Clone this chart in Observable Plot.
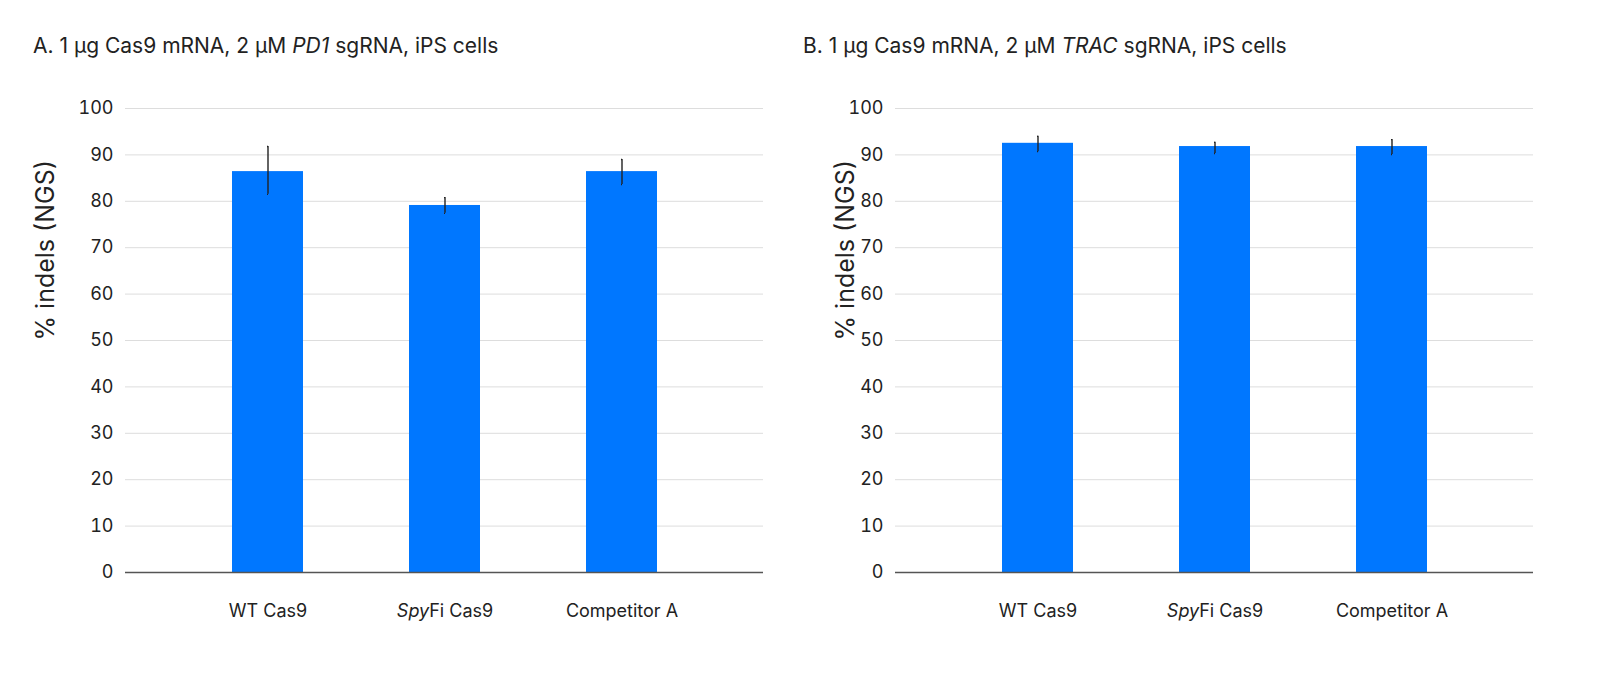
<!DOCTYPE html>
<html><head><meta charset="utf-8">
<script src="https://cdn.jsdelivr.net/npm/d3@7"></script>
<script src="https://cdn.jsdelivr.net/npm/@observablehq/plot@0.6"></script>
<style>
html,body{margin:0;background:#fff;font-family:Inter,"Noto Sans",sans-serif;color:#222;overflow:hidden;}
#wrap{display:flex;width:1601px;}
.panel{width:800px;flex:0 0 800px;position:relative;}
.panel svg{display:block;max-width:none;}
.title{font-size:21px;height:70px;box-sizing:border-box;padding-top:33px;}
</style></head><body>
<div id="wrap">
<div class="panel" id="pa"><div class="title" style="padding-left:33px">A. 1 µg Cas9 mRNA, 2 µM <i>PD1</i> sgRNA, iPS cells</div></div>
<div class="panel" id="pb"><div class="title" style="padding-left:3px">B. 1 µg Cas9 mRNA, 2 µM <i>TRAC</i> sgRNA, iPS cells</div></div>
</div>
<script>
const categories = ["WT Cas9", "SpyFi Cas9", "Competitor A"];
const valuesA = [86.4, 79.1, 86.4];
const lowA = [81.5, 77.4, 83.6];
const highA = [91.8, 80.8, 89.0];
const valuesB = [92.5, 91.8, 91.8];
const lowB = [90.7, 90.3, 90.1];
const highB = [94.0, 92.7, 93.3];
const yTicks = [0,10,20,30,40,50,60,70,80,90,100];

function chart(vals, lo, hi, ml, mr) {
  const data = categories.map((c,i)=>({c, v:vals[i], lo:lo[i], hi:hi[i]}));
  const p = Plot.plot({
    width: 800, height: 600, marginLeft: ml, marginRight: mr, marginTop: 38, marginBottom: 98,
    style: {fontFamily: "Inter, sans-serif", fontSize: "18px", color: "#222", maxWidth: "none"},
    x: {domain: categories, padding: 0.6, label: null, tickSize: 0, tickPadding: 32},
    y: {domain: [0,100], ticks: yTicks, label: null, tickSize: 0, tickPadding: 12},
    marks: [
      Plot.gridY(yTicks, {stroke: "#ddd", strokeOpacity: 1}),
      Plot.barY(data, {x: "c", y: "v", fill: "#0077ff"}),
      Plot.ruleY([0], {stroke: "#555", strokeWidth: 1.5}),
      Plot.ruleX(data, {x: "c", y1: "lo", y2: "hi", stroke: "#222", strokeWidth: 1.4}),
      Plot.tickY(data, {x: "c", y: "lo", stroke: "#222", strokeWidth: 1.4, insetLeft: 36, insetRight: 36}),
      Plot.tickY(data, {x: "c", y: "hi", stroke: "#222", strokeWidth: 1.4, insetLeft: 36, insetRight: 36}),
      Plot.text(["% indels (NGS)"], {frameAnchor: "left", dx: -ml + 45, rotate: -90, fontSize: 25, fill: "#222"})
    ]
  });
  d3.select(p).selectAll("text").each(function(){
    const t = d3.select(this);
    if (t.text() === "SpyFi Cas9") {
      const tsp = t.select("tspan").empty() ? t : t.select("tspan");
      tsp.text("");
      tsp.append("tspan").attr("font-style","italic").text("Spy");
      tsp.append("tspan").text("Fi Cas9");
    }
  });
  return p;
}
document.getElementById("pa").append(chart(valuesA, lowA, highA, 125, 37));
document.getElementById("pb").append(chart(valuesB, lowB, highB, 95, 67));
</script>
</body></html>
